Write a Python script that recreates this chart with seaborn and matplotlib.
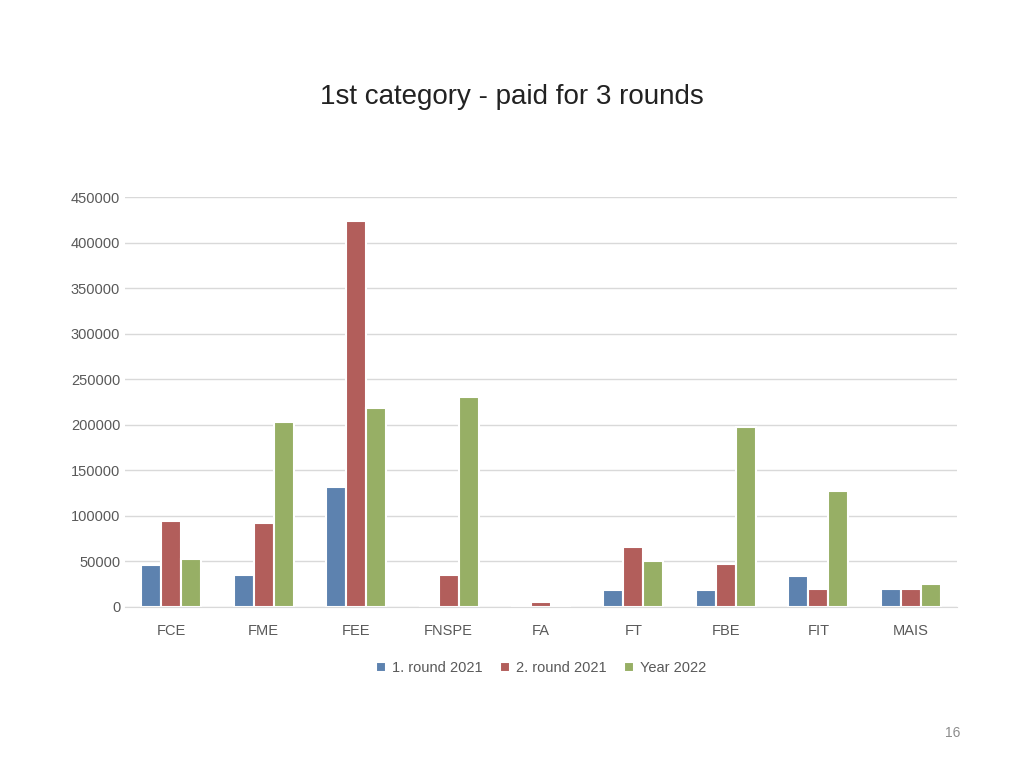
import pandas as pd
import matplotlib.pyplot as plt
import seaborn as sns

# values
faculties = ["FCE", "FME", "FEE", "FNSPE", "FA", "FT", "FBE", "FIT", "MAIS"]
round1_2021 = [46100, 35100, 131700, 0, 0, 18700, 18700, 34000, 19800]
round2_2021 = [94400, 92200, 423700, 35100, 5500, 65900, 47200, 19800, 19800]
year_2022 = [52700, 203000, 218400, 230500, 0, 50500, 197600, 127300, 25200]
series_names = ["1. round 2021", "2. round 2021", "Year 2022"]

df = pd.DataFrame({"faculty": faculties,
                   series_names[0]: round1_2021,
                   series_names[1]: round2_2021,
                   series_names[2]: year_2022})
df = df.melt(id_vars="faculty", var_name="series", value_name="amount")

plt.rcParams["font.family"] = "Liberation Sans"
fig = plt.figure(figsize=(10.24, 7.68), dpi=100)
ax = fig.add_axes([125 / 1024, 1 - 607 / 768, 832 / 1024, 410 / 768])

sns.barplot(data=df, x="faculty", y="amount", hue="series",
            palette=["#4F81BD", "#C0504D", "#9BBB59"], width=0.65,
            edgecolor="white", linewidth=1.5, ax=ax)

ax.set_ylim(0, 450000)
ax.set_yticks(range(0, 450001, 50000))
ax.yaxis.grid(True, color="#D9D9D9", linewidth=1)
ax.set_axisbelow(True)
for s in ["top", "right", "left"]:
    ax.spines[s].set_visible(False)
ax.spines["bottom"].set_color("#D9D9D9")
ax.tick_params(length=0, labelsize=10.5, colors="#595959")
ax.tick_params(axis="x", pad=12)
ax.set_xlabel("")
ax.set_ylabel("")

ax.legend(loc="upper center", bbox_to_anchor=(0.5, -0.1), ncol=3, frameon=False,
          fontsize=10.5, handlelength=0.7, handleheight=0.7, columnspacing=1.2,
          handletextpad=0.4, labelcolor="#595959")

fig.text(0.5, 1 - 97 / 768, "1st category - paid for 3 rounds", ha="center",
         va="center", fontsize=20, color="#222222")
fig.text(953 / 1024, 1 - 733 / 768, "16", ha="center", va="center",
         fontsize=10, color="#8C8C8C")

fig.savefig("out.png", dpi=100)
